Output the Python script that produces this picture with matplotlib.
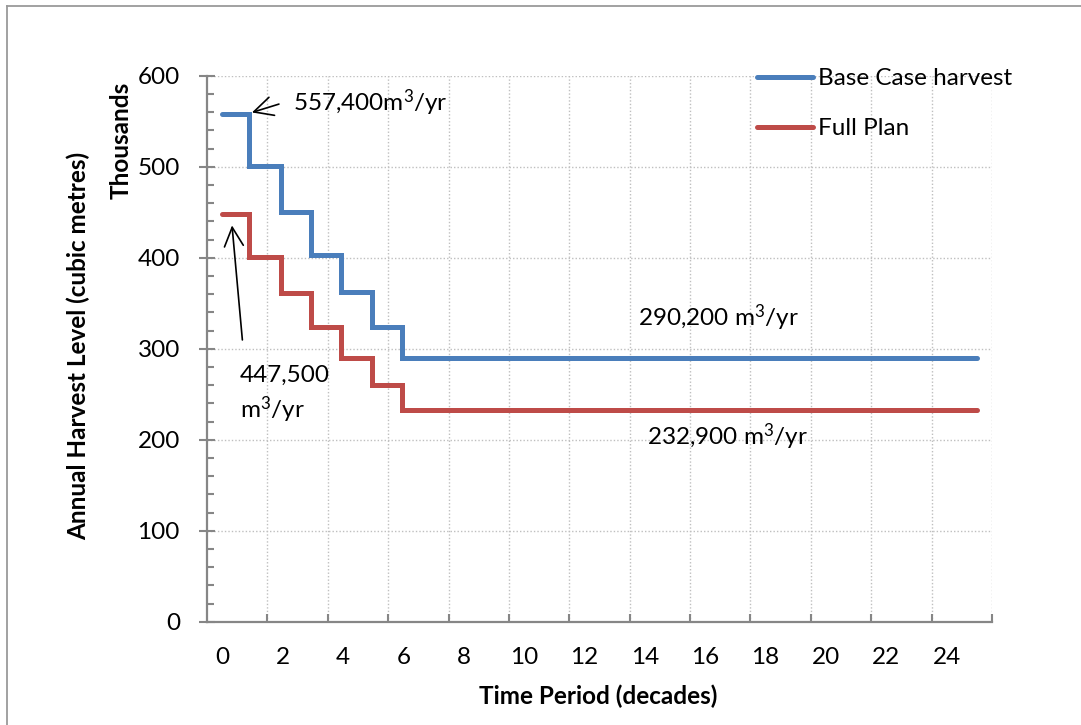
import matplotlib
matplotlib.use("Agg")
import matplotlib.pyplot as plt
from matplotlib.lines import Line2D
import numpy as np

plt.rcParams['font.family'] = ['Lato', 'DejaVu Sans']
plt.rcParams['mathtext.fontset'] = 'custom'
plt.rcParams['mathtext.rm'] = 'Lato'
plt.rcParams['mathtext.it'] = 'Lato'

# step break points (decades) and harvest levels (thousand m3/yr)
breaks = [0, 0.9, 1.95, 2.95, 3.95, 4.95, 5.95, 25]
base_case = [557.4, 501, 450, 403, 362, 324, 290.2]
full_plan = [447.5, 401, 361, 324, 290, 260, 232.9]
series_names = ["Base Case harvest", "Full Plan"]
colors = ["#4A7EBB", "#BE4B48"]

W, H = 1081, 725
fig = plt.figure(figsize=(W / 100, H / 100), dpi=100)
L, R, T, B = 207, 992, 75.7, 621.7
ax = fig.add_axes([L / W, 1 - B / H, (R - L) / W, (B - T) / H])

FS = 17.5
FB = 17.5
for vals, c, name in zip([base_case, full_plan], colors, series_names):
    ax.step(breaks, np.append(vals, vals[-1]), where="post", color=c,
            lw=3.6, solid_capstyle="round", solid_joinstyle="miter", label=name, zorder=3)

ax.set_xlim(-0.5, 25.5)
ax.set_ylim(0, 600)

ax.set_xticks(np.arange(0, 25, 2))
ax.set_xticks(np.arange(1.5, 26, 2), minor=True)
ax.set_yticks(np.arange(0, 601, 100))
ax.set_yticks(np.arange(0, 601, 20), minor=True)

gcol = "#BFBFBF"
ax.grid(True, which="minor", axis="x", color=gcol, linestyle=(0, (1, 1.5)), lw=1)
ax.grid(True, which="major", axis="y", color=gcol, linestyle=(0, (1, 1.5)), lw=1)

scol = "#868686"
for s in ["top", "right"]:
    ax.spines[s].set_visible(False)
for s in ["left", "bottom"]:
    ax.spines[s].set_color(scol)
    ax.spines[s].set_linewidth(1.6)

ax.tick_params(axis="x", which="major", length=0, pad=18, labelsize=FS)
ax.tick_params(axis="x", which="minor", direction="in", length=5.5, width=1.5, color=scol)
ax.tick_params(axis="y", which="major", direction="inout", length=11, width=1.5,
               color=scol, pad=14, labelsize=FS)
ax.tick_params(axis="y", which="minor", direction="in", length=5, width=1.5, color=scol)

fig.text(598 / W, 1 - 696.7 / H, "Time Period (decades)", ha="center", va="center",
         fontsize=FB, fontweight="bold")
fig.text(78 / W, 1 - 346 / H, "Annual Harvest Level (cubic metres)", rotation=90,
         ha="center", va="center", fontsize=FB, fontweight="bold")
fig.text(121 / W, 1 - 140 / H, "Thousands", rotation=90,
         ha="center", va="center", fontsize=FB, fontweight="bold")

arrow = dict(arrowstyle="->", color="black", lw=1.2, mutation_scale=34)
ax.annotate("", xy=(0.9, 558.7), xytext=(1.97, 569.7), arrowprops=arrow)
ax.annotate("", xy=(0.32, 438.5), xytext=(0.68, 306.6), arrowprops=arrow)
m3 = r"m$^{3}$/yr"
ax.text(2.35, 570, "557,400" + m3, ha="left", va="center", fontsize=FS)
ax.text(0.59, 271, "447,500", ha="left", va="center", fontsize=FS)
ax.text(0.59, 233, m3, ha="left", va="center", fontsize=FS)
ax.text(13.77, 333.7, "290,200 " + m3, ha="left", va="center", fontsize=FS)
ax.text(14.07, 203, "232,900 " + m3, ha="left", va="center", fontsize=FS)

ax.legend(loc="upper left", bbox_to_anchor=(757 / W, 1 - 68 / H), bbox_transform=fig.transFigure,
          frameon=False, fontsize=FS, handlelength=2.3, handletextpad=0.2,
          labelspacing=1.2, borderpad=0, borderaxespad=0)

bc = "#9A9A9A"
fig.add_artist(Line2D([7 / W, 1], [1 - 5.5 / H, 1 - 5.5 / H], color=bc, lw=1.3,
                      transform=fig.transFigure))
fig.add_artist(Line2D([7 / W, 7 / W], [0, 1 - 5.5 / H], color=bc, lw=1.3,
                      transform=fig.transFigure))

fig.savefig("out.png", dpi=100)
plt.close(fig)
